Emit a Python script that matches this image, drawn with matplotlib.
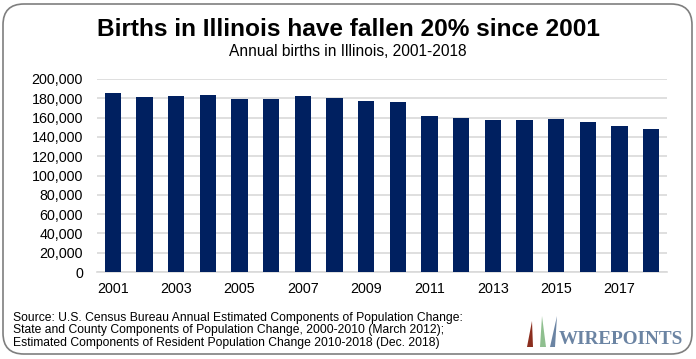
import matplotlib.pyplot as plt
from matplotlib.patches import FancyBboxPatch, Polygon
from matplotlib.ticker import FuncFormatter

years = list(range(2001, 2019))
births = [185200, 181000, 182100, 183400, 179300, 179300, 182700, 180000, 177200,
          176500, 162100, 160000, 157300, 157300, 158700, 155900, 151100, 148000]
yticks = list(range(0, 200001, 20000))
xtick_years = [2001, 2003, 2005, 2007, 2009, 2011, 2013, 2015, 2017]

title = "Births in Illinois have fallen 20% since 2001"
subtitle = "Annual births in Illinois, 2001-2018"
source = ("Source: U.S. Census Bureau Annual Estimated Components of Population Change:\n"
          "State and County Components of Population Change, 2000-2010 (March 2012);\n"
          "Estimated Components of Resident Population Change 2010-2018 (Dec. 2018)")

plt.rcParams['font.family'] = ['Liberation Sans', 'DejaVu Sans']

W, H = 696, 359
fig = plt.figure(figsize=(W / 100, H / 100), dpi=100)

# rounded frame around everything
frame = FancyBboxPatch((3 / W, 5 / H), (W - 7) / W, (H - 9) / H,
                       boxstyle="round,pad=0,rounding_size=0.03",
                       transform=fig.transFigure, fc='white', ec='#7f7f7f', lw=1.2,
                       mutation_aspect=W / H, zorder=-5)
fig.patches.append(frame)

ax = fig.add_axes([97 / W, (H - 272) / H, (667 - 97) / W, (272 - 79) / H])
ax.set_facecolor('none')
idx = list(range(len(years)))
ax.bar(idx, births, width=0.52, color='#002060', zorder=3)
ax.set_xlim(-0.5, len(years) - 0.5)
ax.set_ylim(0, 200000)
ax.set_yticks(yticks)
ax.yaxis.set_major_formatter(FuncFormatter(lambda v, p: f"{int(v):,}"))
ax.set_xticks([years.index(y) for y in xtick_years])
ax.set_xticklabels([str(y) for y in xtick_years])
ax.grid(axis='y', color='#d9d9d9', lw=1.2, zorder=0)
for s in ['top', 'right', 'left']:
    ax.spines[s].set_visible(False)
ax.spines['bottom'].set_color('#d9d9d9')
ax.spines['bottom'].set_linewidth(1.2)
ax.tick_params(axis='both', length=0, labelsize=10.3, colors='black')
ax.tick_params(axis='y', pad=10)
ax.tick_params(axis='x', pad=7)

fig.text(0.5, 1 - 30 / H, title, ha='center', va='center', fontsize=17.6, fontweight='bold')
fig.text(0.5, 1 - 52 / H, subtitle, ha='center', va='center', fontsize=11.2)
fig.text(13 / W, 1 - 330.5 / H, source, ha='left', va='center', fontsize=8.7, linespacing=1.08)

# logo
bars_logo = [((527, 347), (533, 347), (532, 321), '#8b2e1e'),
             ((540, 347), (546, 347), (542, 316), '#8fbf8f'),
             ((550, 347), (555, 347), (557, 316), '#6b84a3')]
for a, b, c, col in bars_logo:
    pts = [(a[0] / W, 1 - a[1] / H), (b[0] / W, 1 - b[1] / H), (c[0] / W, 1 - c[1] / H)]
    fig.patches.append(Polygon(pts, closed=True, transform=fig.transFigure, fc=col, ec='none'))
fig.text(559 / W, 1 - 339 / H, "WIREPOINTS", ha='left', va='center', fontsize=13.8,
         fontweight='bold', family='Liberation Serif', color='#6b84a3')

fig.savefig('out.png', dpi=100)
